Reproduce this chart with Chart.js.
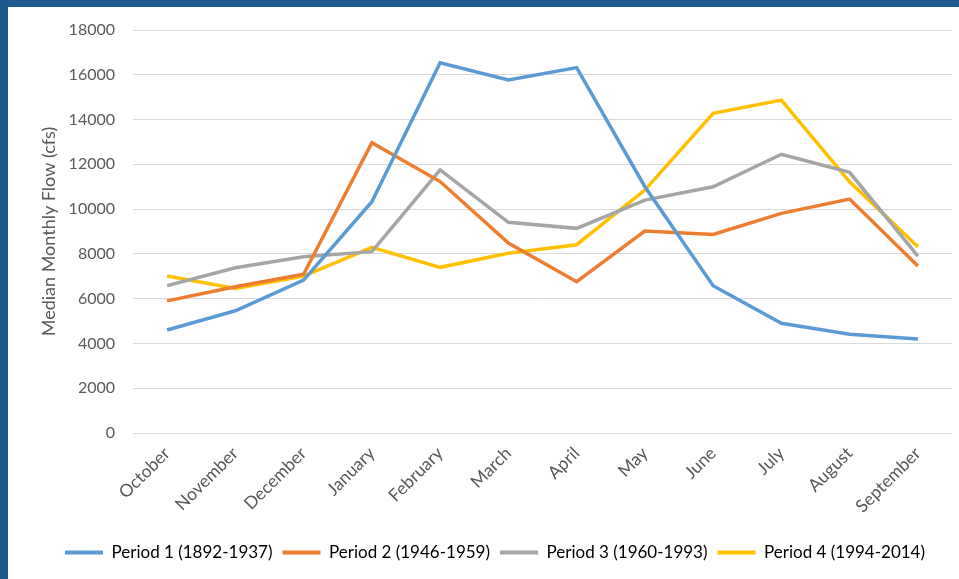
<!DOCTYPE html>
<html>
<head>
<meta charset="utf-8">
<script src="https://cdn.jsdelivr.net/npm/chart.js@4"></script>
<style>
  html, body { margin: 0; padding: 0; }
  body { width: 959px; height: 579px; background: #1f5a8c; overflow: hidden; position: relative; }
  #panel { position: absolute; left: 8px; top: 7px; width: 951px; height: 572px; background: #fff; }
  canvas { display: block; }
</style>
</head>
<body>
<div id="panel"><canvas id="flowChart" width="951" height="572"></canvas></div>
<script>
// months of the water year
const months = ['October', 'November', 'December', 'January', 'February', 'March',
                'April', 'May', 'June', 'July', 'August', 'September'];

// median monthly flow (cfs)
const period1 = [4600, 5460, 6830, 10330, 16540, 15770, 16320, 11000, 6580, 4900, 4410, 4200];
const period2 = [5900, 6530, 7090, 12970, 11230, 8480, 6760, 9020, 8870, 9810, 10450, 7460];
const period3 = [6580, 7380, 7870, 8100, 11750, 9410, 9140, 10400, 11000, 12450, 11640, 7900];
const period4 = [7010, 6460, 7010, 8290, 7400, 8030, 8410, 10850, 14280, 14870, 11220, 8320];

const seriesNames = ['Period 1 (1892-1937)', 'Period 2 (1946-1959)',
                     'Period 3 (1960-1993)', 'Period 4 (1994-2014)'];
const seriesColors = ['#5b9bd5', '#ed7d31', '#a5a5a5', '#ffc000'];

const allSeries = [period1, period2, period3, period4];

Chart.defaults.font.family = 'Lato, "Open Sans", sans-serif';
Chart.defaults.color = '#595959';

const ctx = document.getElementById('flowChart').getContext('2d');

new Chart(ctx, {
    type: 'line',
    data: {
        labels: months,
        datasets: allSeries.map((values, i) => ({
            label: seriesNames[i],
            data: values,
            borderColor: seriesColors[i],
            backgroundColor: seriesColors[i],
            borderWidth: 3.5,
            pointRadius: 0,
            tension: 0,
            fill: false
        }))
    },
    options: {
        responsive: false,
        animation: false,
        layout: {
            padding: { left: 30, right: 7, top: 23, bottom: 8 }
        },
        plugins: {
            tooltip: { enabled: false },
            legend: {
                position: 'bottom',
                labels: {
                    boxWidth: 38,
                    boxHeight: 4,
                    padding: 10,
                    font: { size: 17 },
                    color: '#595959',
                    generateLabels: chart => chart.data.datasets.map((ds, i) => ({
                        text: ds.label,
                        fillStyle: ds.borderColor,
                        strokeStyle: ds.borderColor,
                        lineWidth: 0,
                        datasetIndex: i
                    }))
                }
            }
        },
        scales: {
            x: {
                offset: true,
                grid: { display: false, drawTicks: false },
                border: { display: false },
                ticks: {
                    minRotation: 45,
                    maxRotation: 45,
                    padding: 10,
                    font: { size: 17.5 }
                },
                // leave a gap between the month labels and the legend
                afterFit: scale => { scale.height += 7; }
            },
            y: {
                min: 0,
                max: 18000,
                ticks: {
                    stepSize: 2000,
                    padding: 18,
                    font: { size: 16 },
                    callback: value => String(value)
                },
                grid: { color: '#d9d9d9', lineWidth: 1, drawTicks: false },
                border: { display: false },
                title: {
                    display: true,
                    text: 'Median Monthly Flow (cfs)',
                    font: { size: 18 },
                    color: '#595959',
                    padding: { top: 0, bottom: 10 }
                },
                // pull the tick labels closer to the axis title, top set by layout padding
                afterFit: scale => { scale.width -= 19; scale.paddingTop = 0; }
            }
        }
    }
});
</script>
</body>
</html>
